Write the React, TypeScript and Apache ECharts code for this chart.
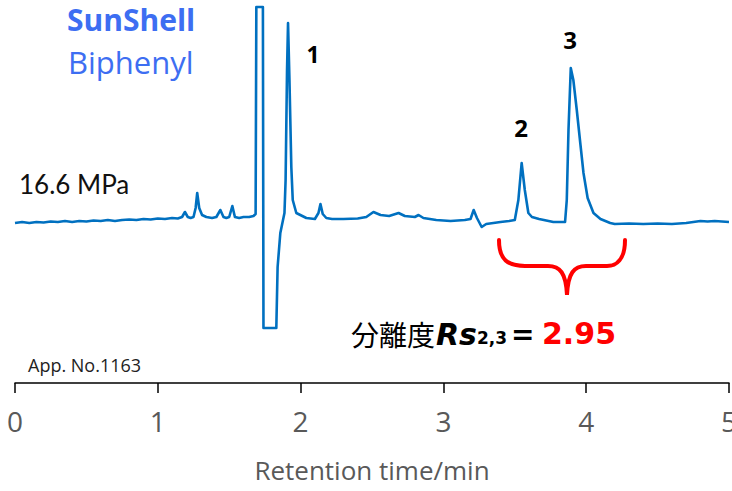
import React, { useEffect, useRef } from "react";
import * as echarts from "echarts";

// Retention time (min) and detector signal (arbitrary units, baseline = 0)
const times: number[] = [
  0.0, 0.05, 0.1, 0.15, 0.2, 0.25, 0.3, 0.35, 0.4, 0.45, 0.5, 0.55, 0.6, 0.65, 0.7, 0.75, 0.8, 0.85, 0.9, 0.95,
  1.0, 1.05, 1.1, 1.14, 1.17, 1.19, 1.21, 1.23, 1.25, 1.265, 1.276, 1.29, 1.31, 1.34, 1.38, 1.41, 1.438, 1.46,
  1.48, 1.5, 1.522, 1.54, 1.57, 1.6, 1.64, 1.67, 1.685, 1.69, 1.736, 1.74, 1.83, 1.839, 1.858, 1.887, 1.895,
  1.905, 1.912, 1.922, 1.935, 1.945, 1.97, 2.04, 2.1, 2.125, 2.139, 2.155, 2.18, 2.22, 2.3, 2.4, 2.46, 2.51,
  2.56, 2.62, 2.686, 2.73, 2.8, 2.826, 2.86, 2.95, 3.05, 3.15, 3.19, 3.212, 3.235, 3.268, 3.3, 3.35, 3.4, 3.46,
  3.5, 3.525, 3.548, 3.57, 3.595, 3.62, 3.67, 3.77, 3.83, 3.852, 3.864, 3.876, 3.892, 3.91, 3.934, 3.96, 3.981,
  4.01, 4.051, 4.1, 4.168, 4.2, 4.3, 4.4, 4.5, 4.6, 4.7, 4.75, 4.8, 4.85, 4.9, 4.95, 5.0,
];
const signal: number[] = [
  -3, -2, -3, -2, -2.5, -1.5, -2, -1, -2, -1, -1.5, -0.5, -1, 0, -1, 0, 0.5, 0, 1, 0.5,
  1.5, 1, 2, 1.5, 3, 8, 3, 2, 3, 12, 27, 12, 5, 3, 2, 3, 10, 3,
  2, 3, 14, 3, 2, 3, 3, 4, 6, 213, 213, -108, -108, -47, -13, 7, 40,
  150, 197, 140, 53, 20, 7, 2, 1, 7, 16, 6, 2, 1, 1, 1.5, 3, 8,
  5, 4, 7, 4, 3, 5, 2, 0, -1, 0, 1, 10, 2, -7, -4, -3, -2, -1,
  0, 20, 57, 30, 7, 3, 1, -2, -2, -2, 20, 90, 152, 140, 110, 75, 47,
  22, 7, 1, -3, -4, -3.5, -4, -3.5, -4, -3, -2, -1, -1.5, -1, -1.5, -2,
];
const xTicks: number[] = [0, 1, 2, 3, 4, 5];
const peakLabels: string[] = ["1", "2", "3"];
const resolution = "2.95";

const BRACE_D =
  "M0,0 C0,20 9,26 26,26 L49,26 C61,26 67,33 68,55 C69,33 75,26 87,26 L108,26 C117,26 126,20 126,0";

export default function App() {
  const ref = useRef<HTMLDivElement>(null);
  useEffect(() => {
    document.body.style.margin = "0";
    try {
      echarts.graphic.registerShape("brace", echarts.graphic.extendPath(BRACE_D, {}) as any);
    } catch (e) {}
    const chart = echarts.init(ref.current!, null, { renderer: "svg" });
    const data = times.map((t, i) => [t, signal[i]]);
    const bold = { fontFamily: "DejaVu Sans", fontWeight: "bold", fill: "#000", verticalAlign: "middle" };
    chart.setOption({
      animation: false,
      backgroundColor: "#ffffff",
      grid: { left: 15, right: 3, top: 7, bottom: 108, outerBoundsMode: "none", containLabel: false },
      xAxis: {
        type: "value",
        min: xTicks[0],
        max: xTicks[xTicks.length - 1],
        interval: 1,
        name: "Retention time/min",
        nameLocation: "middle",
        nameGap: 74,
        nameTextStyle: { fontFamily: "Open Sans", fontSize: 26, color: "#595959" },
        axisLine: { onZero: false, lineStyle: { color: "#000", width: 1.5 } },
        axisTick: { length: 10, lineStyle: { color: "#000", width: 1.5 } },
        axisLabel: {
          fontFamily: "Open Sans",
          fontSize: 28,
          color: "#595959",
          margin: 24,
          showMaxLabel: true,
          showMinLabel: true,
          hideOverlap: false,
        },
        splitLine: { show: false },
      },
      yAxis: { type: "value", min: -163, max: 213, show: false, splitLine: { show: false } },
      series: [
        {
          type: "line",
          data,
          showSymbol: false,
          clip: false,
          lineStyle: { color: "#0070c0", width: 2.6, join: "round" },
          z: 2,
        },
      ],
      graphic: [
        {
          type: "text",
          left: 67,
          top: 4,
          style: { text: "SunShell", fontFamily: "Open Sans", fontWeight: "bold", fontSize: 30, fill: "#3d6ef2" },
        },
        {
          type: "text",
          left: 68,
          top: 46,
          style: { text: "Biphenyl", fontFamily: "Open Sans", fontSize: 31, fill: "#3d6ef2" },
        },
        {
          type: "text",
          left: 19,
          top: 171,
          style: { text: "16.6 MPa", fontFamily: "Lato", fontSize: 26, fill: "#111" },
        },
        {
          type: "text",
          x: 313,
          y: 54,
          style: { text: peakLabels[0], fontFamily: "Open Sans", fontWeight: "bold", fontSize: 23, fill: "#000", align: "center", verticalAlign: "middle" },
        },
        {
          type: "text",
          x: 521,
          y: 127,
          style: { text: peakLabels[1], fontFamily: "Open Sans", fontWeight: "bold", fontSize: 24, fill: "#000", align: "center", verticalAlign: "middle" },
        },
        {
          type: "text",
          x: 570,
          y: 39,
          style: { text: peakLabels[2], fontFamily: "Open Sans", fontWeight: "bold", fontSize: 24, fill: "#000", align: "center", verticalAlign: "middle" },
        },
        {
          type: "brace",
          x: 499,
          y: 240,
          shape: {},
          style: { stroke: "#ff0000", lineWidth: 4, fill: "none", lineCap: "round" },
        },
        {
          type: "text",
          x: 351,
          y: 334,
          style: { text: "分離度", fontFamily: "Noto Sans CJK JP", fontSize: 28, fill: "#000", verticalAlign: "middle" },
        },
        {
          type: "text",
          x: 436,
          y: 334,
          style: { ...bold, text: "Rs", fontStyle: "italic", fontSize: 30 },
        },
        {
          type: "text",
          x: 477,
          y: 338,
          style: { ...bold, text: "2,3", fontSize: 17 },
        },
        {
          type: "text",
          x: 511,
          y: 334,
          style: { ...bold, text: "=", fontSize: 28 },
        },
        {
          type: "text",
          x: 542,
          y: 333,
          style: { ...bold, text: resolution, fontSize: 30, fill: "#ff0000" },
        },
        {
          type: "text",
          left: 28,
          top: 356,
          style: { text: "App. No.1163", fontFamily: "Open Sans", fontSize: 18, fill: "#222" },
        },
      ],
    });
    return () => chart.dispose();
  }, []);
  return <div ref={ref} style={{ width: 732, height: 491 }} />;
}
